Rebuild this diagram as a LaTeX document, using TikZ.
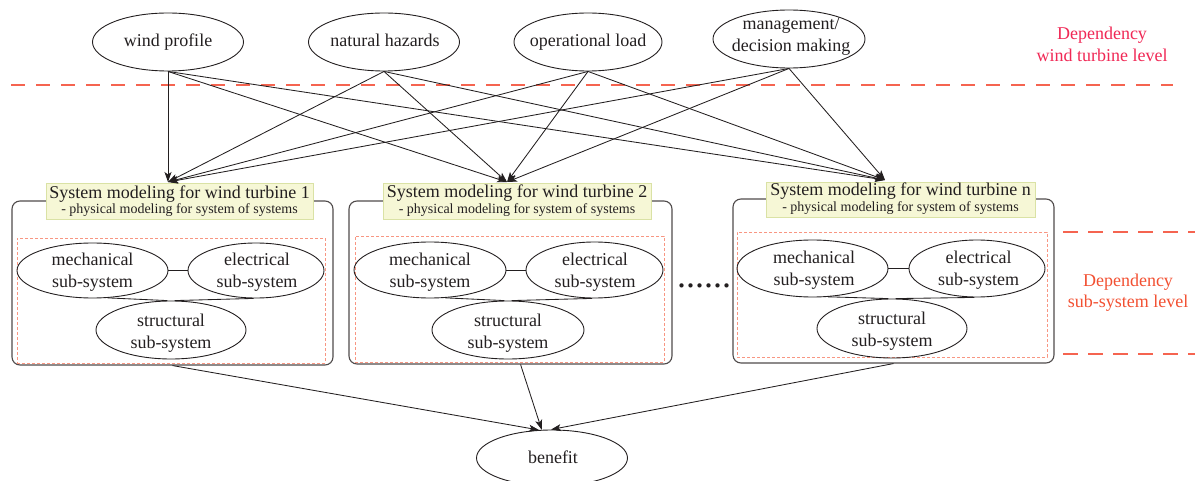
\documentclass[tikz,border=0pt]{standalone}
\usepackage{fontspec}
\setmainfont{Liberation Serif}
\usetikzlibrary{shapes.geometric,arrows.meta}
\definecolor{ink}{RGB}{35,31,32}
\definecolor{boxc}{RGB}{80,75,75}
\definecolor{redA}{RGB}{240,40,85}
\definecolor{redB}{RGB}{242,80,50}
\definecolor{dashc}{RGB}{245,100,80}
\definecolor{innerc}{RGB}{248,150,130}
\definecolor{yfill}{RGB}{246,247,214}
\definecolor{yline}{RGB}{218,226,165}
\begin{document}
\begin{tikzpicture}[x=1pt,y=-1pt,
  ell/.style={draw=ink,line width=0.9pt,ellipse,inner sep=0pt},
  txt/.style={anchor=base,inner sep=0pt,font=\fontsize{18}{22}\selectfont,text=ink},
  subtxt/.style={anchor=base,inner sep=0pt,font=\fontsize{14}{16}\selectfont,text=ink},
  lvltxt/.style={anchor=base,inner sep=0pt,font=\fontsize{18}{22}\selectfont},
  arr/.style={draw=ink,line width=0.85pt,-{Stealth[length=10pt,width=7pt,inset=2.5pt]}},
  link/.style={draw=ink,line width=0.85pt},
  sysbox/.style={draw=boxc,line width=1.1pt,rounded corners=8pt,inner sep=0pt},
  ttl/.style={draw=yline,fill=yfill,line width=0.8pt,inner sep=0pt},
  inbox/.style={draw=innerc,line width=0.8pt,dash pattern=on 3pt off 2pt,inner sep=0pt},
  level/.style={draw=dashc,line width=1.2pt,dash pattern=on 14pt off 11pt}]
\useasboundingbox (0,0) rectangle (1195,481);

% level lines
\coordinate (l1a) at (11,85);
\coordinate (l1b) at (1173,85);
\draw[level] (l1a) -- (l1b);
\coordinate (l2a) at (1063,232);
\coordinate (l2b) at (1195,232);
\coordinate (l3a) at (1063,354);
\coordinate (l3b) at (1195,354);
\draw[level,dash pattern=on 15pt off 10pt] (l2a) -- (l2b);
\draw[level,dash pattern=on 15pt off 10pt] (l3a) -- (l3b);
\node[lvltxt,text=redA] (dep1a) at (1102,40) {Dependency};
\node[lvltxt,text=redA] (dep1b) at (1102,62) {wind turbine level};
\node[lvltxt,text=redB] (dep2a) at (1128,286.7) {Dependency};
\node[lvltxt,text=redB] (dep2b) at (1128,308) {sub-system level};

% top factors
\node[ell,minimum width=151pt,minimum height=58pt] (wp) at (168,42) {};
\node[txt] (wpt) at (168,47) {wind profile};
\node[ell,minimum width=151pt,minimum height=58pt] (nh) at (384,42) {};
\node[txt] (nht) at (385,47) {natural hazards};
\node[ell,minimum width=148pt,minimum height=58pt] (ol) at (588,42) {};
\node[txt] (olt) at (588,47) {operational load};
\node[ell,minimum width=152pt,minimum height=58pt] (md) at (789,39) {};
\node[txt] (mda) at (791,30) {management/};
\node[txt] (mdb) at (791,52) {decision making};

% turbine boxes
\node[sysbox,minimum width=321pt,minimum height=164pt] (box1) at (172.5,283) {};
\node[sysbox,minimum width=323pt,minimum height=163pt] (box2) at (510.5,282.5) {};
\node[sysbox,minimum width=321pt,minimum height=164pt] (boxn) at (893.5,281) {};

\node[inbox,minimum width=308pt,minimum height=125pt] (in1) at (171,300.5) {};
\node[inbox,minimum width=309pt,minimum height=126pt] (in2) at (509.5,299) {};
\node[inbox,minimum width=310pt,minimum height=125pt] (inn) at (892,294.5) {};

\node[ttl,minimum width=267pt,minimum height=36pt] (t1) at (179.5,201) {};
\node[txt] (t1a) at (179.5,198.3) {System modeling for wind turbine 1};
\node[subtxt] (t1b) at (179.5,213.3) {- physical modeling for system of systems};
\node[ttl,minimum width=268pt,minimum height=36pt] (t2) at (517,201) {};
\node[txt] (t2a) at (517,197.3) {System modeling for wind turbine 2};
\node[subtxt] (t2b) at (517,213.3) {- physical modeling for system of systems};
\node[ttl,minimum width=269pt,minimum height=35pt] (tn) at (900.5,199.5) {};
\node[txt] (tna) at (900.5,195.7) {System modeling for wind turbine n};
\node[subtxt] (tnb) at (900.5,211.7) {- physical modeling for system of systems};

% sub-systems, turbine 1
\node[ell,minimum width=151pt,minimum height=55pt] (m1) at (92.5,270.5) {};
\node[txt] (m1a) at (92.5,266) {mechanical};
\node[txt] (m1b) at (92.5,288) {sub-system};
\node[ell,minimum width=136pt,minimum height=55pt] (e1) at (256,270.5) {};
\node[txt] (e1a) at (257,266) {electrical};
\node[txt] (e1b) at (257,288) {sub-system};
\node[ell,minimum width=150pt,minimum height=58pt] (s1) at (171,330) {};
\node[txt] (s1a) at (171,326.7) {structural};
\node[txt] (s1b) at (171,348.3) {sub-system};
\draw[link] (m1.east) -- (e1.west);
\draw[link] (m1.-61) -- (s1.97);
\draw[link] (e1.-95) -- (s1.83);

% sub-systems, turbine 2
\node[ell,minimum width=152pt,minimum height=56pt] (m2) at (430,270) {};
\node[txt] (m2a) at (430,265.7) {mechanical};
\node[txt] (m2b) at (430,287.3) {sub-system};
\node[ell,minimum width=137pt,minimum height=56pt] (e2) at (594.5,270) {};
\node[txt] (e2a) at (595,265.7) {electrical};
\node[txt] (e2b) at (595,287.3) {sub-system};
\node[ell,minimum width=152pt,minimum height=58pt] (s2) at (508,330) {};
\node[txt] (s2a) at (508,326.7) {structural};
\node[txt] (s2b) at (508,348.3) {sub-system};
\draw[link] (m2.east) -- (e2.west);
\draw[link] (m2.-61) -- (s2.97);
\draw[link] (e2.-95) -- (s2.83);

% sub-systems, turbine n
\node[ell,minimum width=151pt,minimum height=57pt] (mn) at (812.5,268.5) {};
\node[txt] (mna) at (814,264) {mechanical};
\node[txt] (mnb) at (814,285.5) {sub-system};
\node[ell,minimum width=136pt,minimum height=57pt] (en) at (977,268.5) {};
\node[txt] (ena) at (978.5,264) {electrical};
\node[txt] (enb) at (978.5,285.5) {sub-system};
\node[ell,minimum width=150pt,minimum height=59pt] (sn) at (892,328.5) {};
\node[txt] (sna) at (892,325) {structural};
\node[txt] (snb) at (892,346.7) {sub-system};
\draw[link] (mn.east) -- (en.west);
\draw[link] (mn.-61) -- (sn.97);
\draw[link] (en.-95) -- (sn.83);

% dots
\node[anchor=base,inner sep=0pt,font=\fontsize{36}{36}\selectfont,text=ink] (dots) at (704,288) {......};

% arrows from factors to turbines
\coordinate (tg1) at (168,182);
\coordinate (tg2) at (507,182);
\coordinate (tgn) at (885,180);
\foreach \s in {wp,nh,ol,md}{
  \foreach \t in {tg1,tg2,tgn}{
    \draw[arr] (\s.south) -- (\t);
  }
}

% benefit
\node[ell,minimum width=151pt,minimum height=56pt] (ben) at (552,458) {};
\node[txt] (bent) at (553,463) {benefit};
\draw[arr] (box1.south) -- (ben.115);
\draw[arr] (box2.-83) -- (ben.110);
\draw[arr] (boxn.south) -- (ben.92);
\end{tikzpicture}
\end{document}
